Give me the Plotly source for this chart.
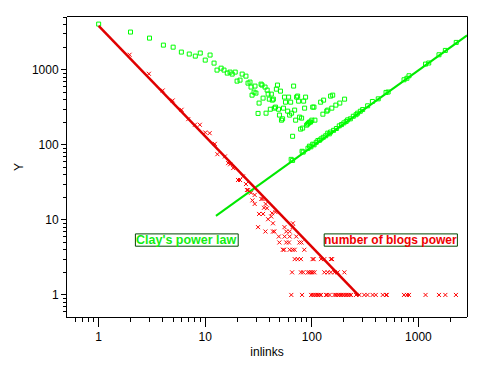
import plotly.graph_objects as go

# ---- data ----
# Clay's power law: scattered green squares (upper cluster)
clay_x = [1, 1.99, 3.0, 4.05, 5.0, 5.97, 7.08, 8.07, 8.98, 10, 11.1, 12.1, 12.9, 14.1, 15.0, 16.1,
          17.1, 17.9, 19.1, 19.9, 21.2, 22.2, 24.1, 25.2, 26.3, 26.9, 27.5, 28.7, 29.3, 29.9,
          32.0, 31.3, 33.4, 34.1, 34.9, 36.4, 37.2, 38.1, 38.9, 39.9, 40.8, 41.7, 42.6, 43.6,
          44.5, 45.6, 46.5, 47.6, 48.7, 49.7, 50.8, 51.9, 53.2, 54.2, 55.4, 56.6, 59.3, 60.6,
          61.9, 63.3, 64.6, 66.0, 67.5, 69.0, 70.5, 72.0, 73.6, 75.2, 76.8, 78.5, 80.2, 82.0,
          83.8, 85.6, 87.4, 89.3, 91.3, 93.2, 95.3, 97.3, 100, 102, 104.7, 106.9, 121, 129, 127,
          138, 141, 154, 150, 157, 168, 183, 203]
clay_y = [4060, 3180, 2640, 2130, 2000, 1720, 1620, 1520, 1670, 1345, 1570, 1227, 990, 1050, 990, 903,
          931, 876, 931, 706, 728, 876, 823, 664, 685, 588, 459, 504, 606, 489,
          360, 262, 644, 625, 419, 588, 264, 536, 474, 406, 298, 474, 394, 406,
          308, 318, 552, 625, 298, 249, 519, 213, 222, 308, 432, 370, 281, 432,
          249, 370, 264, 130, 606, 290, 213, 432, 446, 382, 234, 162, 227, 167,
          382, 308, 432, 183, 189, 195, 201, 201, 213, 318, 318, 213, 370, 394, 256,
          281, 290, 308, 446, 459, 338, 360, 406]

# Clay's power law: green squares lying along the fitted line
clay_line_x = [64, 66, 81, 83, 92, 95, 98, 102, 105, 110, 114, 118, 122, 128, 135, 141, 146, 150,
               160, 170, 181, 190, 200, 210, 217, 230, 245, 260, 269, 285, 300, 334, 370, 420,
               497, 520, 733, 780, 816, 1167, 1250, 1560, 1790, 2265]
clay_line_y = [64, 62, 82, 80, 90, 96, 94, 102, 100, 108, 114, 115, 120, 126, 132, 143, 140, 148,
               156, 165, 179, 186, 196, 205, 215, 222, 240, 252, 264, 280, 295, 331, 378, 410,
               499, 505, 736, 770, 832, 1190, 1230, 1585, 1810, 2314]

# number of blogs: red crosses
blogs_x = [1.95, 2.96, 3.99, 4.95, 6.0, 6.93, 8.0, 8.9, 10.0, 11.0, 12.3, 13.0, 15.3, 16.4, 17.1,
           18.3, 20.3, 21.2, 22.6, 24.1, 24.6, 25.3, 26.9,
           27.7, 29.1, 29.1, 33.6, 34.5, 36.9, 38.0, 34.9, 32.0, 42.4, 41.6, 38.9, 43.2, 31.3,
           36.7, 43.2, 44.5, 57.6, 62.0, 66.5, 49.0, 55.6, 62.0, 71.5, 49.6, 57.6, 61.0, 76.6,
           80.0, 53.5, 55.0, 62.0, 66.0, 69.0, 85.0, 35.6, 45.6, 55.4, 66.0,
           69.1, 73.8, 79.0, 101.7, 104, 122, 131, 151, 155,
           65.3, 79, 83, 91.7, 95, 98.6, 102, 106, 131, 141, 151, 163, 175, 202,
           64.2, 81, 98.5, 102, 106, 110, 114, 118, 122, 136, 140, 147, 163, 168, 175, 181, 188,
           195, 202, 210, 217, 225, 233, 260, 279, 311, 333, 372, 398, 463, 497, 505, 733, 780,
           816, 1167, 1560, 1790, 2250]
blogs_y = [1585, 884, 530, 390, 293, 220, 185, 185, 146, 143, 103, 75, 70, 57, 55,
           49, 34, 34, 38, 30, 25, 25, 23,
           18.2, 16.3, 21.5, 19, 19, 16.3, 14.3, 12, 12, 12.3, 11.1, 10.2, 9, 8,
           7, 7, 7, 7, 7, 9, 6, 6, 6, 6, 5, 5, 5, 5,
           5, 4, 4, 4, 4, 4, 4, 14.5, 12.7, 8, 8,
           3, 3, 3, 3, 3, 3, 3, 3, 3,
           2, 2, 2, 2, 2, 2, 2, 2, 2, 2, 2, 2, 2, 2,
           1, 1, 1, 1, 1, 1, 1, 1, 1, 1, 1, 1, 1, 1, 1, 1, 1,
           1, 1, 1, 1, 1, 1, 1, 1, 1, 1, 1, 1, 1, 1, 1, 1, 1,
           1, 1, 1, 1, 1]

# fitted power-law lines
clay_fit_x = [12.6, 2860]
clay_fit_y = [11.3, 2870]
blogs_fit_x = [1, 278]
blogs_fit_y = [3850, 0.97]

x_ticks = [1, 10, 100, 1000]
y_ticks = [1, 10, 100, 1000]
x_tick_labels = ["1", "10", "100", "1000"]
y_tick_labels = ["1", "10", "100", "1000"]

label_texts = ["Clay's power law", "number of blogs power"]

GREEN = "#00ff00"
RED = "#ff0000"
FONT = "Liberation Sans"
BOX = "#004800"

fig = go.Figure()
fig.add_trace(go.Scatter(x=clay_fit_x, y=clay_fit_y, mode="lines",
                         line=dict(color="#00e800", width=2), hoverinfo="skip"))
fig.add_trace(go.Scatter(x=clay_line_x, y=clay_line_y, mode="markers",
                         marker=dict(symbol="square-open", size=4, color=GREEN,
                                     line=dict(width=1, color=GREEN))))
fig.add_trace(go.Scatter(x=clay_x, y=clay_y, mode="markers",
                         marker=dict(symbol="square-open", size=4, color=GREEN,
                                     line=dict(width=1, color=GREEN))))
fig.add_trace(go.Scatter(x=blogs_x, y=blogs_y, mode="markers",
                         marker=dict(symbol="x-thin", size=4, color=RED,
                                     line=dict(width=1, color=RED))))
fig.add_trace(go.Scatter(x=blogs_fit_x, y=blogs_fit_y, mode="lines",
                         line=dict(color="#e00000", width=2.5), hoverinfo="skip"))

minor_vals = [m * 10 ** e for e in range(-1, 4) for m in range(2, 10)]

# label boxes (fractions of the plot area)
boxes = [(0.171, 0.428, 0.236, 0.277), (0.643, 0.976, 0.236, 0.277)]
shapes = [dict(type="rect", xref="paper", yref="paper", x0=a, x1=b, y0=c, y1=d,
               fillcolor="white", line=dict(color=BOX, width=1), layer="above")
          for (a, b, c, d) in boxes]
# frame around the plot area (top and right sides, pixel-aligned)
shapes.append(dict(type="line", xref="paper", yref="paper", x0=0, x1=1 + 0.5 / 400,
                   y0=1 + 0.5 / 300, y1=1 + 0.5 / 300, line=dict(color="black", width=1),
                   layer="above"))
shapes.append(dict(type="line", xref="paper", yref="paper", x0=1 + 0.5 / 400, x1=1 + 0.5 / 400,
                   y0=0, y1=1 + 0.5 / 300, line=dict(color="black", width=1),
                   layer="above"))

fig.update_layout(
    width=483, height=370,
    margin=dict(l=67, r=16, t=17, b=53),
    paper_bgcolor="white", plot_bgcolor="white",
    showlegend=False,
    font=dict(family=FONT, size=12, color="black"),
    xaxis=dict(type="log", range=[-0.297, 3.456],
               tickmode="array", tickvals=x_ticks, ticktext=x_tick_labels,
               ticks="outside", ticklen=9, tickwidth=1, tickcolor="black",
               minor=dict(tickmode="array", tickvals=minor_vals, ticks="outside",
                          ticklen=4, tickwidth=1, tickcolor="black", showgrid=False),
               showline=True, linecolor="black", linewidth=1, mirror=False,
               showgrid=False, zeroline=False,
               title=dict(text="inlinks", font=dict(size=12), standoff=4)),
    yaxis=dict(type="log", range=[-0.294, 3.703],
               tickmode="array", tickvals=y_ticks, ticktext=y_tick_labels,
               ticks="outside", ticklen=5, tickwidth=1, tickcolor="black",
               minor=dict(tickmode="array", tickvals=minor_vals, ticks="outside",
                          ticklen=3, tickwidth=1, tickcolor="black", showgrid=False),
               showline=True, linecolor="black", linewidth=1, mirror=False,
               showgrid=False, zeroline=False,
               title=dict(text="Y", font=dict(size=12), standoff=5)),
    shapes=shapes,
    annotations=[
        dict(x=(boxes[0][0] + boxes[0][1]) / 2, y=(boxes[0][2] + boxes[0][3]) / 2,
             xref="paper", yref="paper", xanchor="center", yanchor="middle",
             text="<b>" + label_texts[0] + "</b>",
             showarrow=False, font=dict(family=FONT, size=12.5, color="#11ee11")),
        dict(x=(boxes[1][0] + boxes[1][1]) / 2, y=(boxes[1][2] + boxes[1][3]) / 2,
             xref="paper", yref="paper", xanchor="center", yanchor="middle",
             text="<b>" + label_texts[1] + "</b>",
             showarrow=False, font=dict(family=FONT, size=12, color="#ee0000")),
    ],
)

fig.write_html("out.html", config={"displayModeBar": False},
               post_script="document.body.style.margin='0px';document.body.style.padding='0px';")
